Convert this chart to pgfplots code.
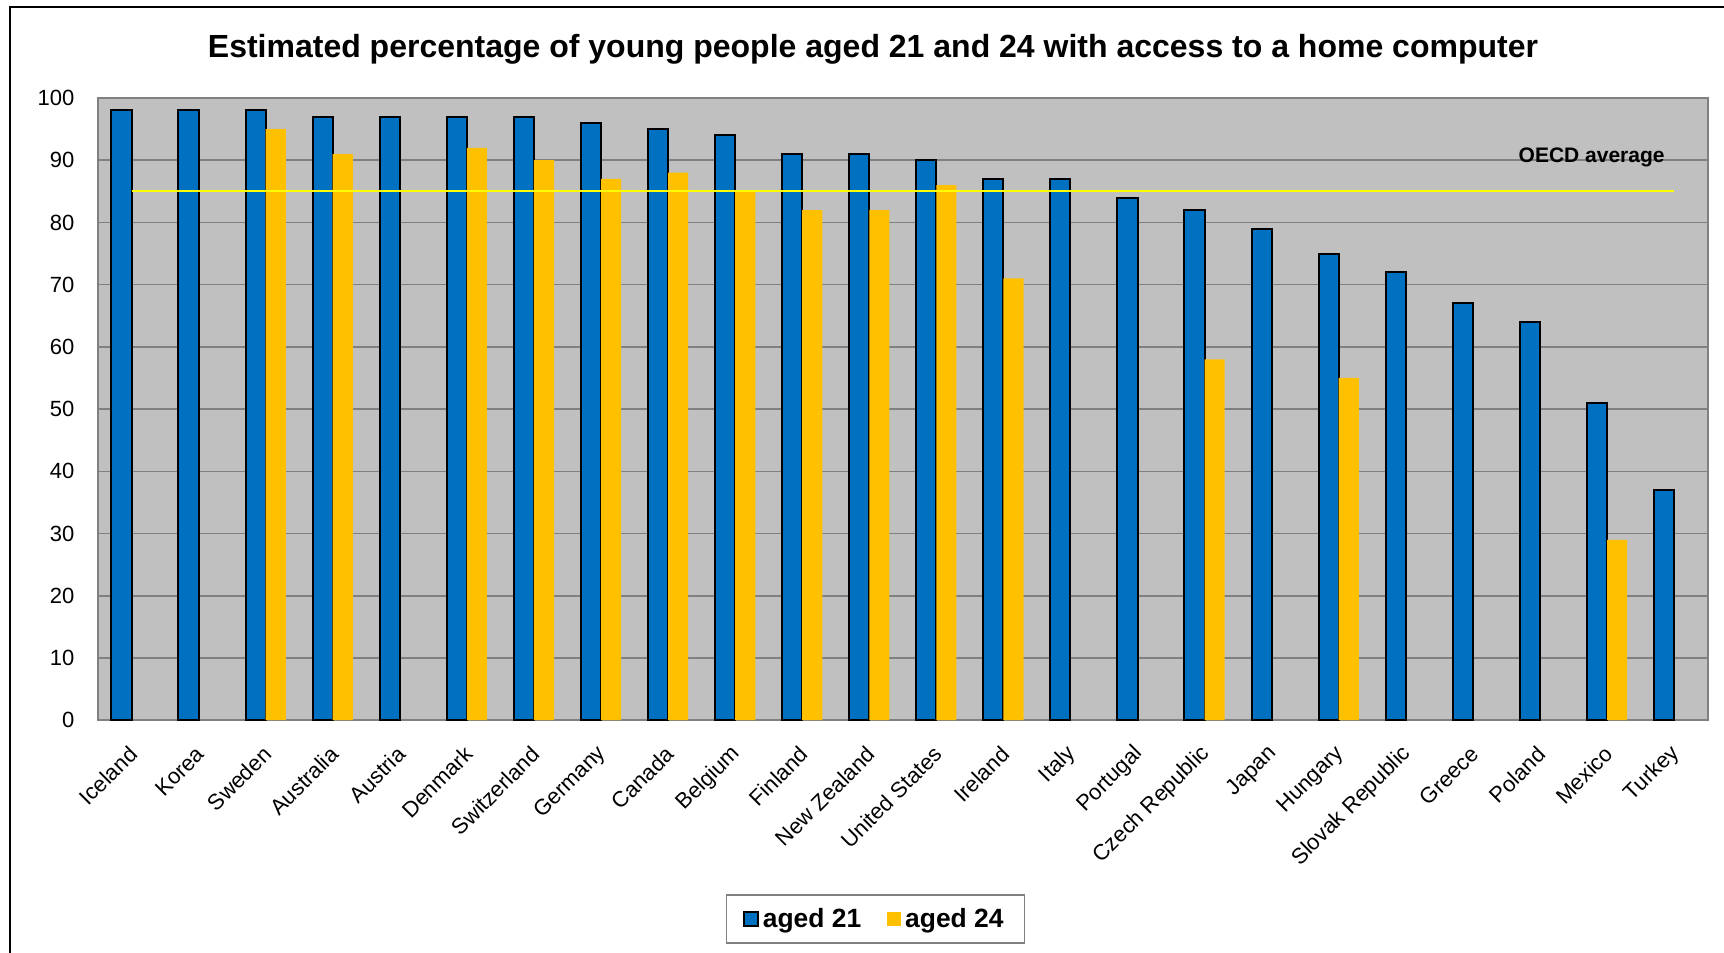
\documentclass[border=0pt]{standalone}
\usepackage{pgfplots}
\pgfplotsset{compat=1.18}
\usepackage{fontspec}
\setmainfont{Liberation Sans}
\definecolor{barblue}{HTML}{0070C0}
\definecolor{baryellow}{HTML}{FFC000}
\definecolor{bgray}{HTML}{C0C0C0}
\definecolor{ggray}{HTML}{808080}
\definecolor{oecd}{HTML}{FFFF00}
\begin{document}
\begin{tikzpicture}
\useasboundingbox (0pt,0pt) rectangle (862pt,-476.5pt);
\draw[line width=1pt] (5pt,-600pt) -- (5pt,-3.5pt) -- (950pt,-3.5pt);
\node[anchor=base,font=\bfseries\fontsize{16}{19}\selectfont] at (436.5pt,-28.6pt) {Estimated percentage of young people aged 21 and 24 with access to a home computer};
\begin{axis}[
  at={(49pt,-360.1pt)}, anchor=south west,
  scale only axis, width=804.8pt, height=311.1pt,
  xmin=-0.5, xmax=23.5, ymin=0, ymax=100,
  xtick={0,...,23},
  xticklabels={Iceland,Korea,Sweden,Australia,Austria,Denmark,Switzerland,Germany,Canada,Belgium,Finland,New Zealand,United States,Ireland,Italy,Portugal,Czech Republic,Japan,Hungary,Slovak Republic,Greece,Poland,Mexico,Turkey},
  ytick={0,10,...,100},
  /pgf/number format/assume math mode=true,
  major tick length=0pt,
  ymajorgrids, grid style={ggray, line width=0.8pt},
  axis background/.style={fill=bgray},
  axis line style={ggray, line width=1pt},
  tick label style={font=\fontsize{11}{13}\selectfont},
  xticklabel style={yshift=-15pt,xshift=1pt,rotate=45,anchor=east,inner sep=0pt},
  yticklabel style={inner sep=0pt,anchor=east,xshift=-11.6pt},
  legend columns=2,
  legend style={at={(0.4830,-0.3195)}, anchor=center, draw=ggray, line width=0.6pt,
    inner xsep=8.5pt, inner ysep=4.5pt,
    font=\bfseries\fontsize{13.2}{15}\selectfont,
    /tikz/every even column/.append style={column sep=11pt}},
]
\addplot[ybar, bar width=0.3, bar shift=-0.15, fill=barblue, draw=black, line width=1pt,
  legend image code/.code={\draw[fill=barblue,draw=black,line width=0.8pt] (0pt,-3.5pt) rectangle (7pt,3.5pt);}]
coordinates {(0,98)(1,98)(2,98)(3,97)(4,97)(5,97)(6,97)(7,96)(8,95)(9,94)(10,91)(11,91)(12,90)(13,87)(14,87)(15,84)(16,82)(17,79)(18,75)(19,72)(20,67)(21,64)(22,51)(23,37)};
\addlegendentry{aged 21}
\addplot[ybar, bar width=0.3, bar shift=0.15, fill=baryellow, draw=none,
  legend image code/.code={\fill[baryellow] (0pt,-3.5pt) rectangle (7pt,3.5pt);}]
coordinates {(2,95)(3,91)(5,92)(6,90)(7,87)(8,88)(9,85)(10,82)(11,82)(12,86)(13,71)(16,58)(18,55)(22,29)};
\addlegendentry{aged 24}
\addplot[oecd, line width=1pt, forget plot] coordinates {(0,85)(23,85)};
\end{axis}
\node[anchor=base,font=\bfseries\fontsize{10.5}{12}\selectfont] at (795.8pt,-81.3pt) {OECD average};
\end{tikzpicture}
\end{document}
